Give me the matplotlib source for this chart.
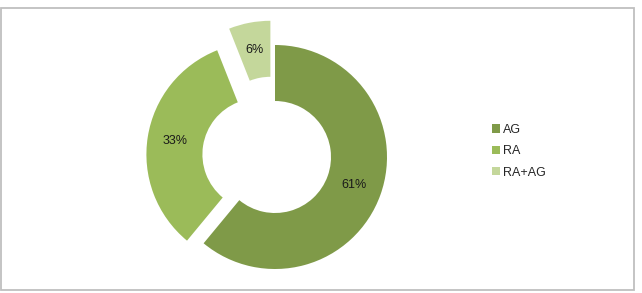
import matplotlib
matplotlib.use("Agg")
import matplotlib.pyplot as plt
from matplotlib.patches import Rectangle

categories = ["AG", "RA", "RA+AG"]
values = [61, 33, 6]
labels = ["61%", "33%", "6%"]
colors = ["#7F9A48", "#9BBB59", "#C4D79B"]
explode = [0.0, 0.15, 0.22]

W, H = 642, 293
cx, cy, R = 275, 157, 112  # pixel centre/radius of the ring

plt.rcParams['font.family'] = ['Liberation Sans', 'DejaVu Sans']
fig = plt.figure(figsize=(W / 100, H / 100), dpi=100)
fig.patch.set_facecolor("white")

# Chart border
fig.patches.append(Rectangle((1.5 / W, 1 - 290 / H), (634 - 1.5) / W, (290 - 7.5) / H,
                             transform=fig.transFigure, fill=False,
                             edgecolor="#BFBFBF", linewidth=1.3))

ax = fig.add_axes([0, 0, 1, 1])
wedges, _ = ax.pie(values, colors=colors, startangle=90, counterclock=False,
                   radius=1.0, explode=explode,
                   wedgeprops=dict(width=0.5, edgecolor="none"))
import numpy as np
total = sum(values)
start = 90.0
for w, v, lab, ex in zip(wedges, values, labels, explode):
    ang = start - 360.0 * v / total / 2
    start -= 360.0 * v / total
    a = np.deg2rad(ang)
    r = 0.75 + ex
    ax.text(r * np.cos(a), r * np.sin(a), lab, ha="center", va="center",
            fontsize=9, color="#1a1a1a")

ax.set_xlim(-cx / R, (W - cx) / R)
ax.set_ylim((cy - H) / R, cy / R)
ax.set_aspect("auto")
ax.axis("off")

leg = ax.legend(wedges, categories, loc="center left",
                bbox_to_anchor=(492 / W, 1 - 151.3 / H), bbox_transform=fig.transFigure,
                frameon=False, fontsize=9, handlelength=0.65, handleheight=0.65,
                handletextpad=0.25, labelspacing=0.75, borderpad=0, borderaxespad=0)
for t in leg.get_texts():
    t.set_color("#262626")

fig.savefig("out.png", dpi=100, facecolor="white")
